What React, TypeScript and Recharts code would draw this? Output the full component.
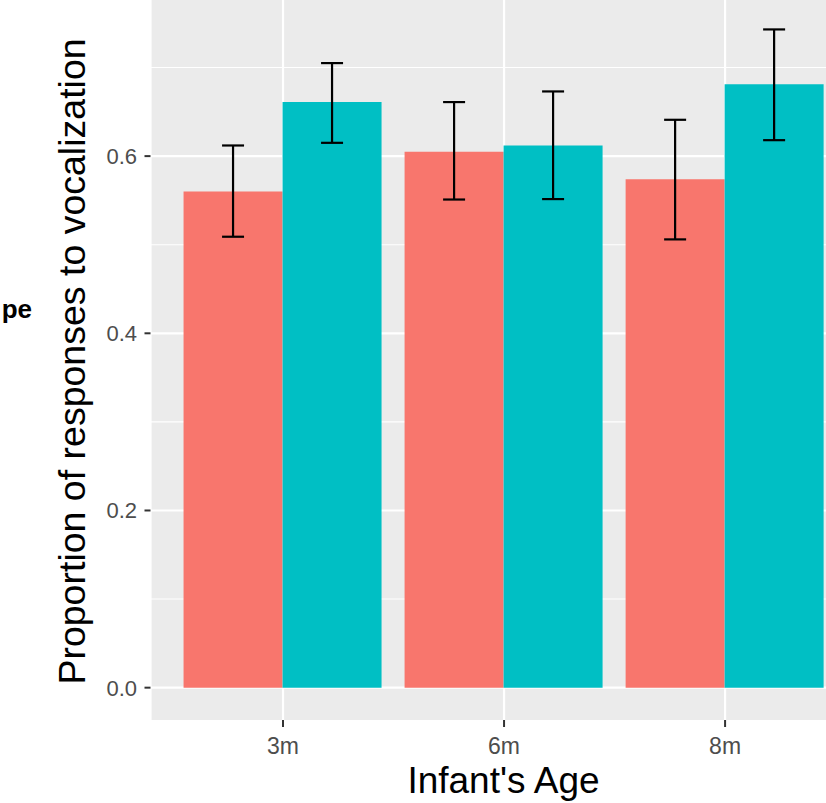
import { BarChart, Bar, ErrorBar, XAxis, YAxis, CartesianGrid } from 'recharts'

const AGES = ['3m', '6m', '8m']
const RED_MEAN = [0.56, 0.605, 0.574]
const RED_LOW = [0.509, 0.551, 0.506]
const RED_HIGH = [0.612, 0.661, 0.641]
const TEAL_MEAN = [0.661, 0.612, 0.681]
const TEAL_LOW = [0.615, 0.5515, 0.618]
const TEAL_HIGH = [0.705, 0.673, 0.743]
const Y_TICKS = [0, 0.2, 0.4, 0.6]
const Y_MINOR = [0.1, 0.3, 0.5, 0.7]

const RED = '#F8766D'
const TEAL = '#00BFC4'
const FONT = '"Liberation Sans", Arial, Helvetica, sans-serif'

const data = AGES.map((age, i) => ({
  age,
  red: RED_MEAN[i],
  redErr: [RED_MEAN[i] - RED_LOW[i], RED_HIGH[i] - RED_MEAN[i]],
  teal: TEAL_MEAN[i],
  tealErr: [TEAL_MEAN[i] - TEAL_LOW[i], TEAL_HIGH[i] - TEAL_MEAN[i]],
}))

function XTick({ x, y, payload }: any) {
  return (
    <text x={x} y={y} dy="0.72em" textAnchor="middle" fontFamily={FONT} fontSize={23} fill="#4D4D4D">
      {payload.value}
    </text>
  )
}

function YTick({ x, y, payload }: any) {
  return (
    <text x={x} y={y} dy="0.36em" textAnchor="end" fontFamily={FONT} fontSize={22} fill="#4D4D4D">
      {Number(payload.value).toFixed(1)}
    </text>
  )
}

export default function App() {
  return (
    <div style={{ position: 'fixed', left: 0, top: 0, width: 826, height: 803, overflow: 'hidden', background: '#fff' }}>
      <div style={{ position: 'absolute', left: 0, top: -10 }}>
        <BarChart
          width={900}
          height={813}
          data={data}
          margin={{ top: 5.5, right: 42.4, bottom: 0, left: 0 }}
          barCategoryGap="5%"
          barGap={0}
        >
          <CartesianGrid fill="#EBEBEB" stroke="#fff" strokeWidth={1.1} vertical={false} horizontalValues={Y_MINOR} />
          <CartesianGrid stroke="#fff" strokeWidth={2.2} horizontalValues={Y_TICKS} />
          <XAxis
            dataKey="age"
            height={83}
            padding={{ left: 22, right: 22 }}
            axisLine={false}
            tickLine={{ stroke: '#333', strokeWidth: 2 }}
            tickSize={7}
            tickMargin={10}
            tick={<XTick />}
          />
          <YAxis
            width={150.5}
            domain={[-0.0365, 0.7813]}
            allowDataOverflow
            ticks={Y_TICKS}
            axisLine={false}
            tickLine={{ stroke: '#333', strokeWidth: 2 }}
            tickSize={6}
            tickMargin={7.5}
            tick={<YTick />}
          />
          <Bar dataKey="red" fill={RED} isAnimationActive={false}>
            <ErrorBar dataKey="redErr" width={11} stroke="#000" strokeWidth={2.2} />
          </Bar>
          <Bar dataKey="teal" fill={TEAL} isAnimationActive={false}>
            <ErrorBar dataKey="tealErr" width={11} stroke="#000" strokeWidth={2.2} />
          </Bar>
        </BarChart>
      </div>
      <svg width={826} height={803} style={{ position: 'absolute', left: 0, top: 0, pointerEvents: 'none' }}>
        <text
          x={85}
          y={361.5}
          transform="rotate(-90 85 361.5)"
          textAnchor="middle"
          fontFamily={FONT}
          fontSize={37.5}
          fill="#000"
        >
          Proportion of responses to vocalization
        </text>
        <text x={503.5} y={793} textAnchor="middle" fontFamily={FONT} fontSize={37} fill="#000">
          Infant's Age
        </text>
        <text x={32} y={318} textAnchor="end" fontFamily={FONT} fontSize={26} fontWeight="bold" fill="#000">
          pe
        </text>
      </svg>
    </div>
  )
}
